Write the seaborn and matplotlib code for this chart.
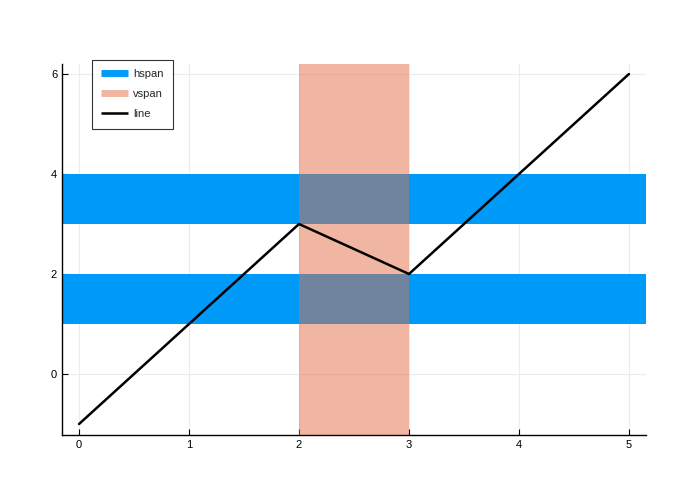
import matplotlib
matplotlib.use("Agg")
import matplotlib.pyplot as plt
from matplotlib.lines import Line2D
import seaborn as sns
import pandas as pd

# data
line_x = [0, 1, 2, 3, 4, 5]
line_y = [-1, 1, 3, 2, 4, 6]
hspans = [(1, 2), (3, 4)]
vspans = [(2, 3)]

blue = "#009AF9"
salmon = "#E26F46"

sns.set_theme(style="white")
plt.rcParams['font.family'] = ['Liberation Sans', 'DejaVu Sans']

fig = plt.figure(figsize=(7, 5), dpi=100)
ax = fig.add_axes([62/700, 65/500, (646-62)/700, (435-64)/500])

ax.grid(True, color="#ececec", linewidth=0.8)
ax.set_axisbelow(True)

for lo, hi in hspans:
    ax.axhspan(lo, hi, color=blue, lw=0, zorder=1)
for lo, hi in vspans:
    ax.axvspan(lo, hi, color=salmon, alpha=0.5, lw=0, zorder=2)

df = pd.DataFrame({"x": line_x, "y": line_y})
sns.lineplot(data=df, x="x", y="y", ax=ax, color="black", lw=1.8, zorder=3)

ax.set_xlim(-0.155, 5.155)
ax.set_ylim(-1.22, 6.2)
ax.set_xticks([0, 1, 2, 3, 4, 5])
ax.set_yticks([0, 2, 4, 6])
ax.set_xlabel("")
ax.set_ylabel("")
ax.tick_params(direction="in", length=4, width=0.8, labelsize=8, colors="black",
               bottom=True, left=True)
for s in ["top", "right"]:
    ax.spines[s].set_visible(False)
for s in ["left", "bottom"]:
    ax.spines[s].set_color("black")
    ax.spines[s].set_linewidth(1)

handles = [Line2D([0], [0], color=blue, lw=5, solid_capstyle="butt"),
           Line2D([0], [0], color=salmon, alpha=0.5, lw=5, solid_capstyle="butt"),
           Line2D([0], [0], color="black", lw=1.8, solid_capstyle="butt")]
leg = ax.legend(handles, ["hspan", "vspan", "line"], loc="upper left",
                bbox_to_anchor=(0.051, 1.011), borderaxespad=0, fontsize=8,
                frameon=True, fancybox=False, edgecolor="black",
                handlelength=2.4, handletextpad=0.45, borderpad=0.85,
                labelspacing=0.9)
leg.get_frame().set_linewidth(0.8)

fig.savefig("out.png", dpi=100)
